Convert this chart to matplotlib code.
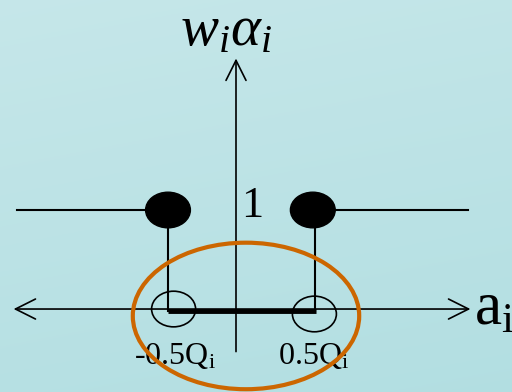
import numpy as np
import matplotlib
matplotlib.use('Agg')
import matplotlib.pyplot as plt
from matplotlib.patches import Ellipse

plt.rcParams['mathtext.fontset'] = 'custom'
plt.rcParams['mathtext.rm'] = 'Liberation Serif'
plt.rcParams['mathtext.it'] = 'Liberation Serif:italic'
plt.rcParams['font.family'] = ['Liberation Serif', 'DejaVu Serif']

# step function data (units: a on x, w*alpha on y)
left_level_x = [-2.74, -0.85]
right_level_x = [0.96, 2.9]
level_y = 1.0
dot_x = [-0.85, 0.96]
stem_x = [-0.85, 0.99]
stem_bottom = -0.02
open_x = [-0.78, 0.98]
open_y = [0.0, -0.05]
zero_seg = [-0.85, 1.0]

# axis extents
x_axis = [-2.78, 2.93]
y_axis = [-0.43, 2.53]

# highlight ellipse
hl_center = (0.125, -0.07)
hl_w, hl_h = 2.83, 1.48

tick_labels = [r'-0.5Q$_\mathregular{i}$', r'0.5Q$_\mathregular{i}$']
tick_label_x = [-0.76, 0.97]

xlim = (-2.95, 3.45)
ylim = (-0.838, 3.121)

fig = plt.figure(figsize=(5.12, 3.92), dpi=100)
ax = fig.add_axes([0, 0, 1, 1])
ax.set_xlim(*xlim)
ax.set_ylim(*ylim)
ax.axis('off')

# background gradient (light teal, slightly lighter at the top left)
g = np.linspace(0, 1, 256)
gx, gy = np.meshgrid(g, g)
t = np.clip(0.8 * gy + 0.2 * gx, 0, 1)
top = np.array([0.775, 0.905, 0.915])
bot = np.array([0.70, 0.873, 0.885])
img = top * (1 - t[..., None]) + bot * t[..., None]
ax.imshow(img, extent=[xlim[0], xlim[1], ylim[0], ylim[1]],
          origin='upper', aspect='auto', zorder=0)

# axes with arrows
ax.annotate('', xy=(x_axis[1], 0), xytext=(x_axis[0], 0),
            arrowprops=dict(arrowstyle='<->', lw=1.2, color='black',
                            mutation_scale=36, shrinkA=0, shrinkB=0))
ax.annotate('', xy=(0, y_axis[1]), xytext=(0, y_axis[0]),
            arrowprops=dict(arrowstyle='->', lw=1.2, color='black',
                            mutation_scale=36, shrinkA=0, shrinkB=0))

# levels at 1
ax.plot(left_level_x, [level_y, level_y], color='black', lw=1.5)
ax.plot(right_level_x, [level_y, level_y], color='black', lw=1.5)
for sx in stem_x:
    ax.plot([sx, sx], [level_y, stem_bottom], color='black', lw=1.5)
ax.plot(zero_seg, [stem_bottom, stem_bottom], color='black', lw=3.5,
        solid_capstyle='butt')

for dx in dot_x:
    ax.add_patch(Ellipse((dx, level_y), 0.56, 0.36, color='black', zorder=5))
for ox, oy in zip(open_x, open_y):
    ax.add_patch(Ellipse((ox, oy), 0.55, 0.36, fill=False, ec='black',
                         lw=1.2, zorder=5))

ax.add_patch(Ellipse(hl_center, hl_w, hl_h, fill=False, ec='#cc6600',
                     lw=3, zorder=6))

# labels
for lab, lx in zip(tick_labels, tick_label_x):
    ax.text(lx, -0.56, lab, fontsize=23, ha='center', va='baseline')
ax.text(0.07, 0.93, '1', fontsize=32, ha='left', va='baseline')
ax.text(2.975, -0.16, r'a$_\mathregular{i}$', fontsize=44, ha='left',
        va='baseline')
ax.text(-0.7, 2.66, r'$w_i\alpha_i$', fontsize=41, ha='left', va='baseline')

fig.savefig('out.png', dpi=100)
